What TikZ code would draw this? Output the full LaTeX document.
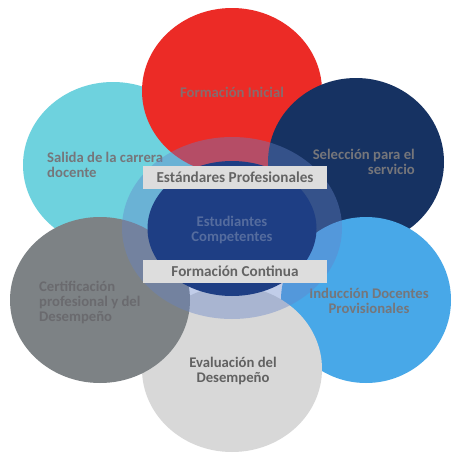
\documentclass[tikz,border=0pt]{standalone}
\usepackage{fontspec}
\setmainfont{Carlito}
\usetikzlibrary{shapes.geometric}
\definecolor{cRed}{RGB}{236,43,38}
\definecolor{cCyan}{RGB}{110,210,222}
\definecolor{cNavy}{RGB}{22,50,98}
\definecolor{cBlue}{RGB}{72,168,232}
\definecolor{cDark}{RGB}{125,130,133}
\definecolor{cLight}{RGB}{216,216,216}
\definecolor{cRing}{RGB}{100,130,200}
\definecolor{cInner}{RGB}{30,62,132}
\definecolor{cBand}{RGB}{221,221,221}
\definecolor{txtGray}{RGB}{118,118,122}
\definecolor{bandTxt}{RGB}{100,100,100}
\definecolor{innerTxt}{RGB}{85,108,158}
\begin{document}
\begin{tikzpicture}[x=1pt,y=-1pt,
  blob/.style={ellipse, minimum width=180pt, minimum height=166pt, inner sep=0pt, outer sep=0pt},
  lbl/.style={font=\bfseries\fontsize{14.7}{15}\selectfont, text=txtGray, inner sep=0pt},
  band/.style={fill=cBand, minimum width=184pt, minimum height=23pt, inner sep=0pt,
    font=\bfseries\fontsize{15.2}{15}\selectfont, text=bandTxt}]
\useasboundingbox (0,0) rectangle (451,453);
\fill[white] (0,0) rectangle (451,453);
% outer circles
\node[blob, fill=cCyan] (salida) at (113,165) {};
\node[blob, fill=cRed] (formini) at (232,91) {};
\node[blob, fill=cNavy, minimum width=176pt, minimum height=168pt] (seleccion) at (356,162) {};
\node[blob, fill=cBlue, minimum width=170pt] (induccion) at (366,300) {};
\node[blob, fill=cLight] (evaluacion) at (232,369) {};
\node[blob, fill=cDark] (certif) at (100,300) {};
% outer labels
\node[lbl, text=txtGray!85!cRed] (tformini) at (232,92) {Formación Inicial};
\node[lbl, align=left, anchor=west] (tsalida) at (47,165) {Salida de la carrera\\docente};
\node[lbl, align=right, anchor=east] (tseleccion) at (415,162) {Selección para el\\servicio};
\node[lbl, align=center] (tinduccion) at (369,301) {Inducción Docentes\\Provisionales};
\node[lbl, align=left, anchor=west, text=txtGray!90!black] (tcertif) at (39,302) {Certificación\\profesional y del\\Desempeño};
\node[lbl, align=center, text=black!62] (tevaluacion) at (233,371) {Evaluación del\\Desempeño};
% central ring and core
\node[ellipse, fill=cRing, fill opacity=0.4, minimum width=220pt, minimum height=182pt, inner sep=0pt] (ring) at (232,228) {};
\node[ellipse, fill=cInner, minimum width=169pt, minimum height=135pt, inner sep=0pt] (core) at (232,228.5) {};
\node[lbl, align=center, text=innerTxt] (tcore) at (232,230) {Estudiantes\\Competentes};
% bands
\node[band] (estandares) at (235,177.5) {Estándares Profesionales};
\node[band] (continua) at (235,271) {Formación Continua};
\end{tikzpicture}
\end{document}
